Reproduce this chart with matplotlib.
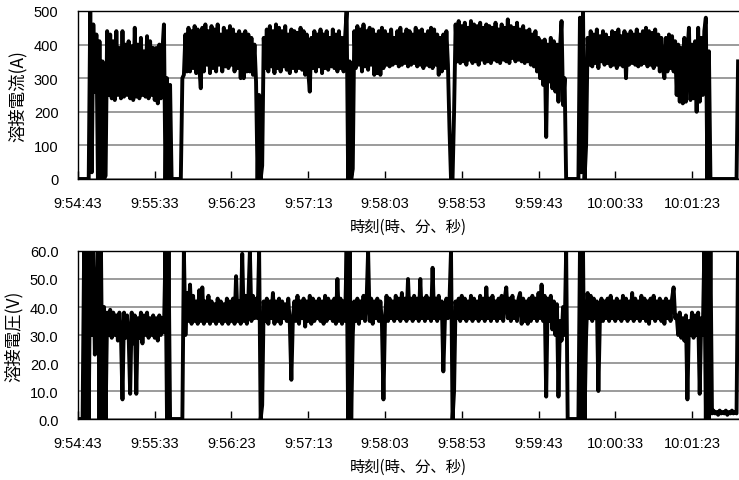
#!/usr/bin/env python3
"""
Welding current / voltage log, 9:54:43 - 10:01:53, one sample per second.
"""
import numpy as np
import matplotlib
matplotlib.use('Agg')
import matplotlib.pyplot as plt

plt.rcParams['font.family'] = ['Liberation Sans', 'DejaVu Sans']

# --- data (1 value per second from 9:54:43) ---
current_a = [
    0, 0, 0, 0, 0, 0, 0, 0,
    500, 20, 460, 260, 430,
    0, 410, 0, 350, 0, 10,
    440, 250, 430, 240, 410, 235, 440, 250, 390, 240,
    440, 245, 400, 250, 410, 240, 395, 235, 450, 245,
    400, 240, 420, 250, 380, 245, 425, 240, 410, 250,
    390, 235, 390, 225, 400, 240, 380,
    460, 0, 300, 0, 280, 0,
    0, 0, 0, 0, 0, 0,
    300, 310, 430, 320,
    450, 320, 440, 330, 455, 315, 445, 335, 270, 450,
    320, 460, 340, 440, 315, 455, 330, 445, 320, 460,
    340, 430, 320, 450, 335, 440, 330, 455, 340, 445,
    320, 430, 330, 440, 300, 430, 300, 440, 320, 430,
    320, 420, 310, 400, 290,
    0, 250, 0, 40, 420,
    330, 445, 320, 455, 335, 440, 315, 460, 330, 450,
    320, 440, 335, 455, 325, 430, 315, 445, 330, 440,
    320, 435, 330, 450, 325, 440, 310, 430, 320, 260,
    420, 330, 440, 320, 430, 335, 445, 315, 430, 330,
    440, 325, 420, 335, 445, 330, 430, 320, 440, 330,
    420, 320,
    420, 500, 0, 350, 0, 30, 440,
    330, 455, 340, 445, 320, 460, 335, 440, 325, 450,
    340, 445, 310, 430, 315, 440, 310, 450, 330, 440,
    340, 430, 335, 445, 340, 420, 345, 440, 335, 450,
    340, 430, 345, 445, 335, 440, 340, 430, 345, 450,
    335, 440, 340, 445, 330, 430, 340, 440, 335, 450,
    330, 445, 340, 430, 310, 420, 320, 430, 330, 440, 340,
    150, 0, 0, 200, 460,
    350, 470, 345, 455, 350, 465, 340, 450, 355, 470,
    345, 460, 350, 455, 340, 465, 355, 450, 345, 460,
    350, 455, 345, 450, 355, 465, 350, 445, 345, 460,
    355, 450, 350, 475, 345, 455, 360, 450, 350, 465,
    355, 445, 350, 455, 345, 440, 350, 445, 340, 430,
    335, 440, 320, 420,
    300, 410, 280, 415, 125, 400, 290, 420, 270, 410,
    260, 400, 230, 390, 470, 220, 300,
    0, 0, 0, 0, 0, 0, 0, 0, 0,
    480, 20, 500, 0, 100, 420,
    340, 440, 335, 430, 345, 445, 330, 425, 350, 440,
    340, 430, 345, 420, 335, 440, 340, 435, 330, 445,
    340, 425, 335, 440, 300, 430, 340, 440, 345, 430,
    340, 445, 335, 430, 340, 440, 345, 450, 335, 440,
    340, 435, 330, 445, 340, 430, 320, 420, 330, 300,
    420, 320, 430, 330, 425, 320, 410,
    250, 400, 230, 390, 225, 420, 230, 380, 450, 235,
    400, 240, 410, 200, 450, 230, 420, 250, 440,
    480, 0, 380, 0,
    0, 0, 0, 0, 0, 0, 0, 0, 0, 0, 0, 0, 0, 0, 0, 0, 0,
    350,
]

voltage_v = [
    0, 0, 0, 0,
    60, 0, 60, 0, 60, 30, 60,
    23, 40,
    60, 0, 60, 0, 40, 0,
    38, 30, 39, 29, 38, 30, 37, 28, 38, 30,
    7, 38, 29, 37, 30, 9, 38, 27, 37, 9,
    36, 29, 38, 27, 37, 30, 38, 29, 36, 30,
    37, 29, 36, 28, 37, 30, 36, 31,
    60, 0, 60, 0, 0,
    0, 0, 0, 0, 0, 0, 0,
    60, 30, 45, 35, 48, 34, 44, 35, 42, 34,
    46, 35, 47, 34, 42, 35, 44, 34, 42, 35,
    41, 34, 43, 35, 42, 34, 41, 35, 43, 34,
    42, 35, 43, 34, 51, 35, 42, 34, 59, 35,
    44, 34, 43, 60, 35, 44, 36, 43, 36,
    60, 0, 5, 42,
    35, 43, 34, 42, 36, 45, 34, 42, 35, 43,
    34, 42, 36, 41, 35, 43, 34, 14, 36, 42,
    35, 44, 34, 42, 36, 43, 33, 42, 35, 44,
    34, 43, 35, 42, 36, 43, 35, 42, 34, 44,
    35, 43, 36, 42, 35, 43, 34, 50, 35, 43,
    34, 42, 35,
    60, 0, 60, 0, 30, 42,
    35, 43, 34, 42, 36, 44, 35, 42, 60, 35,
    43, 34, 42, 36, 43, 35, 42, 34, 7, 36,
    44, 35, 43, 36, 42, 35, 44, 36, 43, 35,
    45, 36, 43, 35, 50, 36, 43, 35, 44, 36,
    43, 35, 50, 36, 43, 35, 44, 36, 43, 35,
    54, 36, 43, 35, 44, 36, 42, 17, 35, 43, 36, 42,
    60, 0, 10, 42,
    36, 43, 35, 44, 36, 43, 35, 42, 36, 44,
    35, 43, 36, 42, 35, 44, 36, 43, 35, 47,
    36, 43, 35, 44, 36, 42, 35, 43, 36, 44,
    35, 43, 47, 36, 43, 35, 44, 36, 42, 35,
    43, 45, 34, 43, 35, 42, 34, 43, 35, 44,
    36, 43, 35, 45, 36, 48, 35, 44, 8, 43,
    35, 44, 32, 42, 30, 41, 8, 35, 28, 40, 30,
    60, 0, 0, 0, 0, 0, 0, 0, 0,
    60, 0, 60, 0, 30, 45,
    36, 44, 35, 43, 36, 42, 10, 36, 43, 35,
    42, 36, 43, 35, 44, 36, 42, 35, 43, 36,
    42, 35, 44, 36, 43, 35, 42, 36, 45, 35,
    43, 36, 42, 35, 44, 36, 43, 35, 42, 34,
    43, 36, 44, 35, 42, 36, 43, 35, 42, 34,
    43, 36, 42, 35, 43, 47, 36,
    37, 30, 38, 29, 36, 28, 37, 7, 35, 30,
    38, 29, 37, 30, 38, 9, 36, 30,
    60, 0, 60, 0, 60,
    2, 3, 2, 2.5, 1.5, 3, 2, 2.5, 2, 3, 1.5, 2.5, 2, 3, 2, 2.5, 2,
    60,
]

tick_seconds = [0, 50, 100, 150, 200, 250, 300, 350, 400]
tick_labels = ['9:54:43', '9:55:33', '9:56:23', '9:57:13', '9:58:03',
               '9:58:53', '9:59:43', '10:00:33', '10:01:23']

cjk = ['Noto Sans CJK JP', 'Liberation Sans', 'DejaVu Sans']

fig = plt.figure(figsize=(7.39, 4.81), dpi=100)
ax1 = fig.add_axes([0.1055, 0.6258, 0.8945, 0.3493])
ax2 = fig.add_axes([0.1055, 0.1268, 0.8945, 0.3493])


def style(ax, yticks, yfmt, ylabel):
    ax.set_xlim(0, 430.6)
    ax.set_xticks(tick_seconds)
    ax.set_xticklabels(tick_labels)
    ax.set_yticks(yticks)
    ax.set_yticklabels([yfmt.format(v) for v in yticks])
    ax.set_ylim(yticks[0], yticks[-1])
    ax.tick_params(axis='x', direction='in', length=6, width=1, pad=12,
                   labelsize=10.5)
    ax.tick_params(axis='y', length=0, pad=14, labelsize=10.5)
    ax.yaxis.grid(True, color='#808080', lw=1.1)
    ax.set_axisbelow(True)
    for s in ['top', 'left', 'bottom']:
        ax.spines[s].set_linewidth(1)
    ax.spines['right'].set_visible(False)
    ax.set_xlabel('時刻(時、分、秒)', family=cjk, fontsize=11, labelpad=6)
    ax.set_ylabel(ylabel, family=cjk, fontsize=12.5, labelpad=5)


t1 = np.arange(len(current_a))
ax1.plot(t1, current_a, color='black', lw=2.8)
style(ax1, [0, 100, 200, 300, 400, 500], '{:d}', '溶接電流(A)')

t2 = np.arange(len(voltage_v))
ax2.plot(t2, voltage_v, color='black', lw=2.8)
style(ax2, [0, 10, 20, 30, 40, 50, 60], '{:.1f}', '溶接電圧(V)')

fig.savefig('out.png', dpi=100)
